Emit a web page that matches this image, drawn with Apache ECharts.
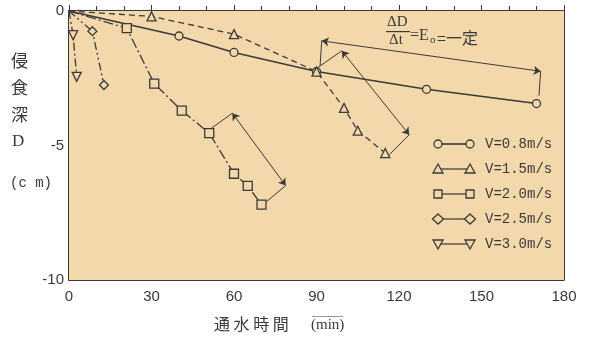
<!DOCTYPE html>
<html><head><meta charset="utf-8">
<script src="https://cdn.jsdelivr.net/npm/echarts@6/dist/echarts.min.js"></script>
<style>html,body{margin:0;padding:0;background:#fff}#c{width:589px;height:339px;background:#fff}</style>
</head><body><div id="c"></div>
<script>
// ---- data ----
const seriesNames = ['V=0.8m/s','V=1.5m/s','V=2.0m/s','V=2.5m/s','V=3.0m/s'];
const t08 = [0, 40, 60, 90, 130, 170];
const d08 = [0, -0.93, -1.54, -2.25, -2.91, -3.44];
const t15 = [0, 30, 60, 90, 100, 105, 115];
const d15 = [0, -0.2, -0.86, -2.25, -3.6, -4.45, -5.28];
const t20 = [0, 21, 31, 41, 51, 60, 65, 70];
const d20 = [0, -0.64, -2.7, -3.7, -4.54, -6.05, -6.5, -7.2];
const t25 = [0, 8.5, 12.7];
const d25 = [0, -0.75, -2.75];
const t30 = [0, 1.5, 2.8];
const d30 = [0, -0.9, -2.45];
// annotation geometry (data coords): dimension lines and extension lines
const dimLines = [
  [[91.9, -1.11], [171.5, -2.24]],
  [[99.2, -1.48], [123.7, -4.60]],
  [[59.4, -3.80], [78.8, -6.49]]
];
const extLines = [
  [[91.3, -2.04], [91.9, -1.11]],
  [[171.5, -2.24], [170.9, -3.15]],
  [[90.5, -2.10], [99.2, -1.48]],
  [[123.7, -4.60], [116.5, -5.34]],
  [[51.9, -4.35], [59.4, -3.80]],
  [[78.8, -6.49], [71.9, -7.08]]
];

const BG = '#f3d8ab';
const INK = '#3a3a3a';
const symbols = ['circle', 'triangle', 'rect', 'diamond', 'triangle'];
const rotates = [0, 0, 0, 0, 180];
const dashes = ['solid', [6, 4], [10, 3, 2, 3], [8, 3, 2, 3, 2, 3], [8, 3, 2, 3]];
const widths = [1.6, 1.3, 1.3, 1.3, 1.3];
const xs = [t08, t15, t20, t25, t30];
const ys = [d08, d15, d20, d25, d30];

const chart = echarts.init(document.getElementById('c'), null, {renderer: 'canvas'});
const lineSeries = seriesNames.map((name, i) => ({
  name, type: 'line',
  data: xs[i].map((t, k) => k === 0 ? {value: [t, ys[i][k]], symbol: 'none'} : [t, ys[i][k]]),
  symbol: symbols[i], symbolRotate: rotates[i], symbolSize: i === 0 ? 8 : 9,
  showAllSymbol: true, clip: false,
  lineStyle: {color: INK, width: widths[i], type: dashes[i]},
  itemStyle: {color: BG, borderColor: INK, borderWidth: 1.3},
  emphasis: {disabled: true}, z: 3
}));
lineSeries[0].markArea = {
  silent: true,
  itemStyle: {color: BG, opacity: 1},
  data: [[{coord: [0, 0]}, {coord: [180, -10]}]]
};
const annSeries = [
  {type: 'lines', coordinateSystem: 'cartesian2d', z: 2,
   symbol: ['arrow', 'arrow'], symbolSize: 7,
   lineStyle: {color: INK, width: 1, opacity: 1},
   data: dimLines.map(c => ({coords: c}))},
  {type: 'lines', coordinateSystem: 'cartesian2d', z: 2,
   symbol: ['none', 'none'],
   lineStyle: {color: INK, width: 1, opacity: 1},
   data: extLines.map(c => ({coords: c}))}
];

// legend drawn as graphic shapes
const G = [];
G.push({type: 'rect', shape: {x: 423, y: 129, width: 139, height: 132}, style: {fill: BG}, z: 10});
seriesNames.forEach((name, i) => {
  const y = 144 + i * 25;
  G.push({type: 'line', shape: {x1: 438, y1: y, x2: 470, y2: y},
    style: {stroke: INK, lineWidth: i === 0 ? 1.6 : 1.2}, z: 11});
  [438, 470].forEach(cx => {
    let el;
    if (i === 0) el = {type: 'circle', shape: {cx, cy: y, r: 4}};
    else if (i === 1) el = {type: 'polygon', shape: {points: [[cx, y - 5], [cx - 5, y + 4], [cx + 5, y + 4]]}};
    else if (i === 2) el = {type: 'rect', shape: {x: cx - 4, y: y - 4, width: 8, height: 8}};
    else if (i === 3) el = {type: 'polygon', shape: {points: [[cx, y - 5], [cx + 5.5, y], [cx, y + 5], [cx - 5.5, y]]}};
    else el = {type: 'polygon', shape: {points: [[cx, y + 5], [cx - 5, y - 4], [cx + 5, y - 4]]}};
    el.style = {fill: BG, stroke: INK, lineWidth: 1.3};
    el.z = 12;
    G.push(el);
  });
  G.push({type: 'text', x: 485, y: y, z: 12,
    style: {text: name, font: '14px "Liberation Mono", monospace', fill: INK, verticalAlign: 'middle'}});
});
G.push({type: 'rect', shape: {x: 386, y: 31, width: 24, height: 1.2}, style: {fill: INK}, z: 12});
G.push({type: 'rect', shape: {x: 312, y: 316, width: 31, height: 1}, style: {fill: '#999'}, z: 12});

const cjk = '"Noto Sans CJK JP", sans-serif';
const serif = '"Liberation Serif", serif';
const mono = '"Liberation Mono", monospace';
const titles = [
  {text: '{c|侵}\n{c|食}\n{c|深}\n{d|D}', left: 11, top: 47, padding: 0,
   textStyle: {rich: {c: {fontFamily: cjk, fontSize: 17, fontWeight: 'normal', lineHeight: 27, color: INK},
                      d: {fontFamily: serif, fontSize: 17, fontWeight: 'normal', lineHeight: 27, color: INK, padding: [0, 0, 0, 1]}}}},
  {text: '(c m)', left: 10, top: 176, padding: 0, textStyle: {fontFamily: mono, fontSize: 14, fontWeight: 'normal', color: INK}},
  {text: '通 水 時 間', left: 214, top: 316, padding: 0, textStyle: {fontFamily: cjk, fontSize: 16, fontWeight: 'normal', color: INK}},
  {text: '(min)', left: 311, top: 318, padding: 0, textStyle: {fontFamily: serif, fontSize: 15, fontWeight: 'normal', color: INK}},
  {text: 'ΔD', left: 387, top: 15, padding: 0, textStyle: {fontFamily: serif, fontSize: 15, fontWeight: 'normal', color: INK}},
  {text: 'Δt', left: 389, top: 33, padding: 0, textStyle: {fontFamily: serif, fontSize: 15, fontWeight: 'normal', color: INK}},
  {text: '=E', left: 410, top: 28, padding: 0, textStyle: {fontFamily: serif, fontSize: 16, fontWeight: 'normal', color: INK}},
  {text: 'o', left: 430, top: 35, padding: 0, textStyle: {fontFamily: serif, fontSize: 11, fontWeight: 'normal', color: INK}},
  {text: '=一定', left: 437, top: 30, padding: 0, textStyle: {fontFamily: cjk, fontSize: 16, fontWeight: 'normal', color: INK}}
];

const option = {
  backgroundColor: '#ffffff',
  animation: false,
  title: titles,
  grid: {left: 69, top: 11, right: 25, bottom: 59, show: true, borderColor: INK, borderWidth: 1.5},
  xAxis: {
    type: 'value', min: 0, max: 180, interval: 30,
    axisLine: {show: true, lineStyle: {color: INK, width: 1.8}},
    axisTick: {show: true, inside: true, length: 6, lineStyle: {color: INK}},
    minorTick: {show: true, splitNumber: 3, length: 5, lineStyle: {color: INK}},
    axisLabel: {color: INK, fontSize: 15, margin: 9},
    splitLine: {show: true, lineStyle: {color: INK, width: 1}}
  },
  yAxis: {
    type: 'value', min: -10, max: 0, interval: 5,
    axisLine: {show: true, lineStyle: {color: INK, width: 2}},
    axisTick: {show: true, inside: true, length: 6, lineStyle: {color: INK}},
    minorTick: {show: true, splitNumber: 5, length: 6, lineStyle: {color: INK}},
    axisLabel: {color: INK, fontSize: 15, margin: 5},
    splitLine: {show: true, lineStyle: {color: INK, width: 1}}
  },
  series: lineSeries.concat(annSeries),
  graphic: G
};
chart.setOption(option);
</script></body></html>
